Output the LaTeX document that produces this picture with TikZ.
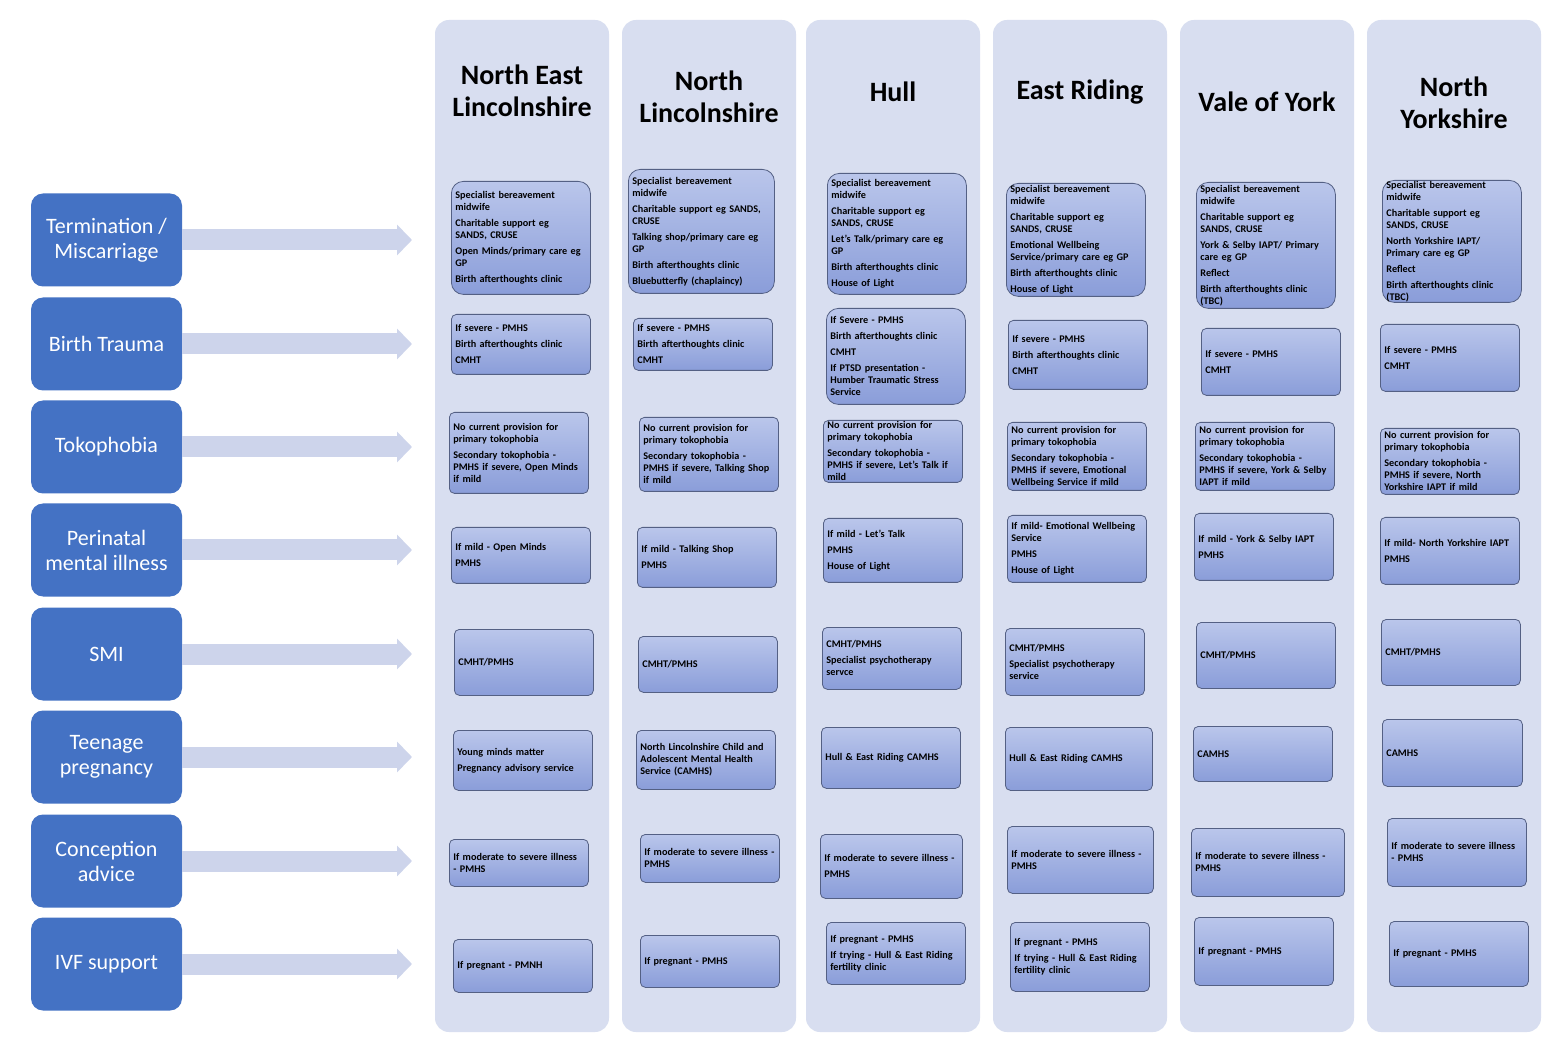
\documentclass[tikz,border=0pt]{standalone}
\usepackage{fontspec}
\setmainfont{Carlito}
\usetikzlibrary{
  arrows.meta
}
\definecolor{regionbg}{RGB}{216,222,240}
\definecolor{topicblue}{RGB}{68,114,196}
\definecolor{flowbg}{RGB}{205,212,235}
\definecolor{svctop}{RGB}{186,198,235}
\definecolor{svcbot}{RGB}{138,157,217}
\definecolor{svcline}{RGB}{84,96,132}
\begin{document}
\begin{tikzpicture}[
  x=0.5pt, y=-0.5pt,
  region/.style={fill=regionbg, rounded corners=7pt, minimum width=87pt, minimum height=506pt, inner sep=0pt},
  region title/.style={font=\fontsize{14}{16}\selectfont\bfseries, align=center},
  topic/.style={fill=topicblue, text=white, rounded corners=6pt, minimum width=75.5pt, minimum height=46.5pt, inner sep=0pt, align=center, font=\fontsize{11}{12.5}\selectfont},
  flow/.style={draw=flowbg, line width=10.5pt, -{Triangle[length=7.5pt,width=15pt]}},
  svc/.style={draw=svcline, line width=0.4pt, top color=svctop, bottom color=svcbot, rounded corners=2.5pt, anchor=north west, align=left, inner xsep=2pt, inner ysep=0pt, text width=65.5pt, font=\fontsize{5.1}{6}\selectfont\bfseries},
  svc top/.style={svc, rounded corners=6pt},
]
\path[fill=white] (0,0) rectangle (1555,1059);
\foreach \c/\x in {ne/522, nl/709, hu/893, er/1080, vy/1267, ny/1454}
  \node[region] (\c) at (\x,526) {};
\node[region title] (ne title) at (522,91) {North East\\Lincolnshire};
\node[region title] (nl title) at (709,97) {North\\Lincolnshire};
\node[region title] (hu title) at (893,92) {Hull};
\node[region title] (er title) at (1080,92) {East Riding};
\node[region title] (vy title) at (1267,102) {Vale of York};
\node[region title] (ny title) at (1454,103) {North\\Yorkshire};
\foreach \i/\y/\topictext in {1/240/{Termination /\\Miscarriage}, 2/344/{Birth Trauma}, 3/447/Tokophobia,
    4/550/{Perinatal\\mental illness}, 5/654/SMI, 6/757/{Teenage\\pregnancy}, 7/861/{Conception\\advice}, 8/964/{IVF support}} {
  \node[topic] (lb\i) at (106.5,\y) {\topictext};
  \coordinate (tip\i) at (412,\y);
  \draw[flow] (lb\i) -- (tip\i);
}
% North East Lincolnshire
\node[svc top, minimum height=56.5pt] (ne1) at (451,181) {Specialist bereavement\\midwife\\[2pt]Charitable support eg\\SANDS, CRUSE\\[2pt]Open Minds/primary care eg\\GP\\[2pt]Birth afterthoughts clinic};
\node[svc, minimum height=30pt] (ne2) at (451,314) {If severe - PMHS\\[2pt]Birth afterthoughts clinic\\[2pt]CMHT};
\node[svc, minimum height=40.5pt] (ne3) at (449,412) {No current provision for\\primary tokophobia\\[2pt]Secondary tokophobia -\\PMHS if severe, Open Minds\\if mild};
\node[svc, minimum height=28pt] (ne4) at (451,527) {If mild - Open Minds\\[2pt]PMHS};
\node[svc, minimum height=33pt] (ne5) at (454,629) {CMHT/PMHS};
\node[svc, minimum height=30pt] (ne6) at (453,730) {Young minds matter\\[2pt]Pregnancy advisory service};
\node[svc, minimum height=23.5pt] (ne7) at (449,839) {If moderate to severe illness\\- PMHS};
\node[svc, minimum height=26.5pt] (ne8) at (453,939) {If pregnant - PMNH};
% North Lincolnshire
\node[svc top, minimum height=62pt, text width=69pt] (nl1) at (628,169) {Specialist bereavement\\midwife\\[2pt]Charitable support eg SANDS,\\CRUSE\\[2pt]Talking shop/primary care eg\\GP\\[2pt]Birth afterthoughts clinic\\[2pt]Bluebutterfly (chaplaincy)};
\node[svc, minimum height=26pt] (nl2) at (633,318) {If severe - PMHS\\[2pt]Birth afterthoughts clinic\\[2pt]CMHT};
\node[svc, minimum height=37pt] (nl3) at (639,417) {No current provision for\\primary tokophobia\\[2pt]Secondary tokophobia -\\PMHS if severe, Talking Shop\\if mild};
\node[svc, minimum height=30pt] (nl4) at (637,527) {If mild - Talking Shop\\[2pt]PMHS};
\node[svc, minimum height=28pt] (nl5) at (638,636) {CMHT/PMHS};
\node[svc, minimum height=29.5pt] (nl6) at (636,730) {North Lincolnshire Child and\\Adolescent Mental Health\\Service (CAMHS)};
\node[svc, minimum height=24pt] (nl7) at (640,834) {If moderate to severe illness -\\PMHS};
\node[svc, minimum height=26pt] (nl8) at (640,935) {If pregnant - PMHS};
% Hull
\node[svc top, minimum height=60.5pt] (hu1) at (827,173) {Specialist bereavement\\midwife\\[2pt]Charitable support eg\\SANDS, CRUSE\\[2pt]Let's Talk/primary care eg\\GP\\[2pt]Birth afterthoughts clinic\\[2pt]House of Light};
\node[svc top, minimum height=48pt] (hu2) at (826,308) {If Severe - PMHS\\[2pt]Birth afterthoughts clinic\\[2pt]CMHT\\[2pt]If PTSD presentation -\\Humber Traumatic Stress\\Service};
\node[svc, minimum height=31pt] (hu3) at (823,420) {No current provision for\\primary tokophobia\\[2pt]Secondary tokophobia -\\PMHS if severe, Let's Talk if\\mild};
\node[svc, minimum height=32pt] (hu4) at (823,518) {If mild - Let's Talk\\[2pt]PMHS\\[2pt]House of Light};
\node[svc, minimum height=31pt] (hu5) at (822,627) {CMHT/PMHS\\[2pt]Specialist psychotherapy\\servce};
\node[svc, minimum height=30.5pt] (hu6) at (821,727) {Hull \& East Riding CAMHS};
\node[svc, minimum height=32pt, text width=67pt] (hu7) at (820,834) {If moderate to severe illness -\\[2pt]PMHS};
\node[svc, minimum height=31pt] (hu8) at (826,922) {If pregnant - PMHS\\[2pt]If trying - Hull \& East Riding\\fertility clinic};
% East Riding
\node[svc top, minimum height=56.5pt] (er1) at (1006,183) {Specialist bereavement\\midwife\\[2pt]Charitable support eg\\SANDS, CRUSE\\[2pt]Emotional Wellbeing\\Service/primary care eg GP\\[2pt]Birth afterthoughts clinic\\[2pt]House of Light};
\node[svc, minimum height=34.5pt] (er2) at (1008,320) {If severe - PMHS\\[2pt]Birth afterthoughts clinic\\[2pt]CMHT};
\node[svc, minimum height=34pt] (er3) at (1007,422) {No current provision for\\primary tokophobia\\[2pt]Secondary tokophobia -\\PMHS if severe, Emotional\\Wellbeing Service if mild};
\node[svc, minimum height=33.5pt] (er4) at (1007,515) {If mild- Emotional Wellbeing\\Service\\[2pt]PMHS\\[2pt]House of Light};
\node[svc, minimum height=33.5pt] (er5) at (1005,628) {CMHT/PMHS\\[2pt]Specialist psychotherapy\\service};
\node[svc, minimum height=31.5pt, text width=69.5pt] (er6) at (1005,727) {Hull \& East Riding CAMHS};
\node[svc, minimum height=33.5pt, text width=69pt] (er7) at (1007,826) {If moderate to severe illness -\\PMHS};
\node[svc, minimum height=34.5pt] (er8) at (1010,922) {If pregnant - PMHS\\[2pt]If trying - Hull \& East Riding\\fertility clinic};
% Vale of York
\node[svc top, minimum height=63pt] (vy1) at (1196,182) {Specialist bereavement\\midwife\\[2pt]Charitable support eg\\SANDS, CRUSE\\[2pt]York \& Selby IAPT/ Primary\\care eg GP\\[2pt]Reflect\\[2pt]Birth afterthoughts clinic\\(TBC)};
\node[svc, minimum height=33.5pt] (vy2) at (1201,328) {If severe - PMHS\\[2pt]CMHT};
\node[svc, minimum height=34pt] (vy3) at (1195,422) {No current provision for\\primary tokophobia\\[2pt]Secondary tokophobia -\\PMHS if severe, York \& Selby\\IAPT if mild};
\node[svc, minimum height=33.5pt] (vy4) at (1194,513) {If mild - York \& Selby IAPT\\[2pt]PMHS};
\node[svc, minimum height=33pt] (vy5) at (1196,622) {CMHT/PMHS};
\node[svc, minimum height=27.5pt] (vy6) at (1193,726) {CAMHS};
\node[svc, minimum height=34pt, text width=72.5pt] (vy7) at (1191,828) {If moderate to severe illness -\\PMHS};
\node[svc, minimum height=34pt] (vy8) at (1194,917) {If pregnant - PMHS};
% North Yorkshire
\node[svc top, minimum height=61pt] (ny1) at (1382,180) {Specialist bereavement\\midwife\\[2pt]Charitable support eg\\SANDS, CRUSE\\[2pt]North Yorkshire IAPT/\\Primary care eg GP\\[2pt]Reflect\\[2pt]Birth afterthoughts clinic\\(TBC)};
\node[svc, minimum height=33.5pt] (ny2) at (1380,324) {If severe - PMHS\\[2pt]CMHT};
\node[svc, minimum height=33pt] (ny3) at (1380,428) {No current provision for\\primary tokophobia\\[2pt]Secondary tokophobia -\\PMHS if severe, North\\Yorkshire IAPT if mild};
\node[svc, minimum height=33.5pt] (ny4) at (1380,517) {If mild- North Yorkshire IAPT\\[2pt]PMHS};
\node[svc, minimum height=33pt] (ny5) at (1381,619) {CMHT/PMHS};
\node[svc, minimum height=33.5pt, text width=66pt] (ny6) at (1382,719) {CAMHS};
\node[svc, minimum height=34pt] (ny7) at (1387,818) {If moderate to severe illness\\- PMHS};
\node[svc, minimum height=32.5pt] (ny8) at (1389,921) {If pregnant - PMHS};
\end{tikzpicture}
\end{document}
